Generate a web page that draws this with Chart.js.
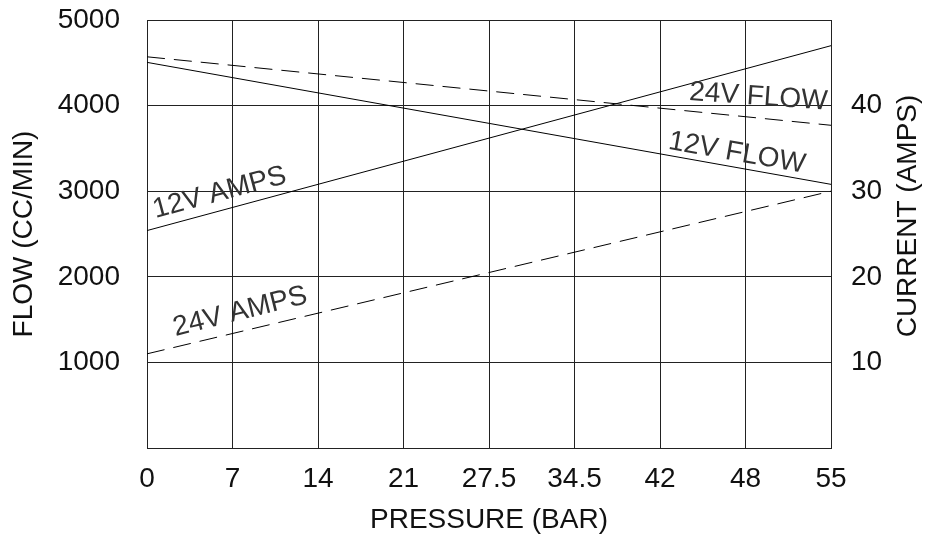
<!DOCTYPE html>
<html>
<head>
<meta charset="utf-8">
<script src="https://cdn.jsdelivr.net/npm/chart.js@4"></script>
<style>
  body { margin: 0; background: #fff; }
  #wrap { width: 930px; height: 540px; }
</style>
</head>
<body>
<div id="wrap"><canvas id="myChart"></canvas></div>
<script>
// pressure ticks (equally spaced on the chart)
const pressure = ['0', '7', '14', '21', '27.5', '34.5', '42', '48', '55'];
// each curve is a straight line, read at both ends
const ends = ['0', '55'];
const flow24V = [4570, 3770];   // cc/min, dashed
const flow12V = [4505, 3080];   // cc/min, solid
const amps12V = [25.4, 47.0];   // amps, solid
const amps24V = [11.0, 30.0];   // amps, dashed

// curve labels: text, pressure index, flow value, angle
const curveLabels = [
    ['12V AMPS', 0.85, 2980, -15],
    ['24V AMPS', 1.09, 1590, -14],
    ['24V FLOW', 7.15, 4100, 4],
    ['12V FLOW', 6.9, 3445, 10]
];

const FONT = '"Liberation Sans", Arial, sans-serif';
const SIZE = 28;
Chart.defaults.color = '#111';
Chart.defaults.font.family = FONT;
Chart.defaults.font.size = SIZE;

function line(values) {
    return ends.map((p, i) => ({ x: p, y: values[i] }));
}

// fixed axis box, and no extra label padding pushing the plot down
function fixWidth(w) {
    return function (scale) {
        scale.width = w;
        scale.paddingTop = 0;
        scale.paddingBottom = 0;
    };
}

const labelPlugin = {
    id: 'curveLabels',
    afterDatasetsDraw(chart) {
        const ctx = chart.ctx;
        const xs = chart.scales.x;
        const ys = chart.scales.y;
        const area = chart.chartArea;
        ctx.save();
        ctx.font = SIZE + 'px ' + FONT;
        ctx.textAlign = 'center';
        ctx.textBaseline = 'middle';
        ctx.fillStyle = '#333';
        for (let item of curveLabels) {
            const px = xs.getPixelForValue(item[1]);
            const py = ys.getPixelForValue(item[2]);
            ctx.save();
            ctx.translate(px, py);
            ctx.rotate(item[3] * Math.PI / 180);
            ctx.fillText(item[0], 0, 0);
            ctx.restore();
        }
        // right axis title reads bottom to top, like the left one
        ctx.fillStyle = '#111';
        ctx.translate(chart.width - 22, (area.top + area.bottom) / 2 - 18);
        ctx.rotate(-Math.PI / 2);
        ctx.fillText('CURRENT (AMPS)', 0, 0);
        ctx.restore();
    }
};

const gridColor = '#222';

var ctx = document.getElementById('myChart').getContext('2d');
new Chart(ctx, {
    type: 'line',
    data: {
        labels: pressure,
        datasets: [
            { label: '24V FLOW', data: line(flow24V), yAxisID: 'y',
              borderColor: '#000', borderWidth: 1, borderDash: [18, 9], pointRadius: 0 },
            { label: '12V FLOW', data: line(flow12V), yAxisID: 'y',
              borderColor: '#000', borderWidth: 1, pointRadius: 0 },
            { label: '12V AMPS', data: line(amps12V), yAxisID: 'y1',
              borderColor: '#000', borderWidth: 1, pointRadius: 0 },
            { label: '24V AMPS', data: line(amps24V), yAxisID: 'y1',
              borderColor: '#000', borderWidth: 1, borderDash: [18, 9], pointRadius: 0 }
        ]
    },
    options: {
        responsive: true,
        maintainAspectRatio: false,
        devicePixelRatio: 1,
        animation: false,
        layout: { padding: { top: 20, left: 0, right: 0, bottom: 0 } },
        plugins: { legend: { display: false }, tooltip: { enabled: false } },
        scales: {
            x: {
                type: 'category',
                offset: false,
                grid: { color: gridColor, drawTicks: false },
                border: { color: gridColor },
                ticks: { padding: 14, maxRotation: 0, autoSkip: false },
                title: { display: true, text: 'PRESSURE (BAR)', padding: { top: 0, bottom: 3 } },
                afterFit(scale) { scale.height = 92; }
            },
            y: {
                position: 'left',
                min: 0,
                max: 5000,
                grid: { color: gridColor, drawTicks: false },
                border: { color: gridColor },
                ticks: {
                    stepSize: 1000,
                    padding: 27,
                    callback: v => (v === 0 ? '' : v)
                },
                title: { display: true, text: 'FLOW (CC/MIN)', padding: { top: 7, bottom: 0 } },
                afterFit: fixWidth(147)
            },
            y1: {
                position: 'right',
                min: 0,
                max: 50,
                grid: { drawOnChartArea: false, drawTicks: false },
                border: { color: gridColor },
                ticks: {
                    stepSize: 10,
                    padding: 20,
                    callback: v => (v === 0 || v === 50 ? '' : v)
                },
                afterFit: fixWidth(99)
            }
        }
    },
    plugins: [labelPlugin]
});
</script>
</body>
</html>
